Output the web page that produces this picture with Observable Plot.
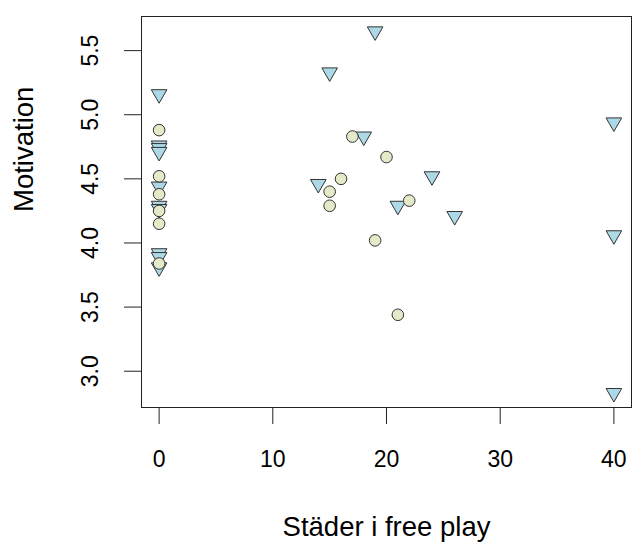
<!DOCTYPE html>
<html>
<head>
<meta charset="utf-8">
<script src="https://cdn.jsdelivr.net/npm/d3@7"></script>
<script src="https://cdn.jsdelivr.net/npm/@observablehq/plot@0.6"></script>
<style>
  html, body { margin: 0; padding: 0; background: #fff; }
  #chart { width: 632px; height: 542px; }
</style>
</head>
<body>
<div id="chart"></div>
<script>
// Group drawn as downward triangles
const triStader = [0, 0, 0, 0, 0, 0, 0, 0, 0, 0, 14, 15, 18, 19, 21, 24, 26, 40, 40, 40];
const triMotivation = [5.16, 4.76, 4.74, 4.71, 4.44, 4.29, 4.265, 3.92, 3.89, 3.81,
                       4.46, 5.33, 4.83, 5.65, 4.29, 4.52, 4.21, 4.94, 4.06, 2.83];

// Group drawn as circles
const circStader = [0, 0, 0, 0, 0, 0, 15, 15, 16, 17, 19, 20, 21, 22];
const circMotivation = [4.88, 4.52, 4.38, 4.25, 4.15, 3.84,
                        4.40, 4.29, 4.50, 4.83, 4.02, 4.67, 3.44, 4.33];

// Axis ticks and labels
const xTicks = [0, 10, 20, 30, 40];
const yTicks = [3.0, 3.5, 4.0, 4.5, 5.0, 5.5];
const yTickLabels = ["3.0", "3.5", "4.0", "4.5", "5.0", "5.5"];
const xTitle = "Städer i free play";
const yTitle = "Motivation";

const triangles = triStader.map((x, i) => ({x, y: triMotivation[i]}));
const circles = circStader.map((x, i) => ({x, y: circMotivation[i]}));

const font = "'Liberation Sans', Arial, Helvetica, sans-serif";
const ink = "#222";

const chart = Plot.plot({
  width: 632,
  height: 542,
  marginLeft: 141,
  marginRight: 1,
  marginTop: 16,
  marginBottom: 135,
  x: {domain: [-1.55, 41.55], axis: null},
  y: {domain: [2.717, 5.766], axis: null},
  style: {fontFamily: font, background: "#fff", color: "#000"},
  marks: [
    Plot.frame({stroke: ink, strokeWidth: 1}),
    Plot.axisX(xTicks, {
      label: null, tickSize: 17, tickPadding: 26, fontSize: 23, stroke: ink, fill: "#000"
    }),
    Plot.axisY(yTicks, {
      label: null, tickSize: 17, tickPadding: 26.5, tickRotate: -90, fontSize: 23,
      stroke: ink, fill: "#000",
      tickFormat: (d) => yTickLabels[yTicks.indexOf(d)]
    }),
    Plot.text([xTitle], {
      frameAnchor: "bottom", dy: 128, lineAnchor: "bottom", fontSize: 27.5, fill: "#000"
    }),
    Plot.text([yTitle], {
      frameAnchor: "left", dx: -109, rotate: -90, lineAnchor: "bottom", fontSize: 27.5, fill: "#000"
    }),
    Plot.dot(triangles, {
      x: "x", y: "y", symbol: "triangle", rotate: 180, r: 5.8,
      fill: "#add8e6", stroke: "#333", strokeWidth: 1
    }),
    Plot.dot(circles, {
      x: "x", y: "y", symbol: "circle", r: 5.8,
      fill: "#e4eac8", stroke: "#333", strokeWidth: 1
    })
  ]
});

document.getElementById("chart").appendChild(chart);
</script>
</body>
</html>
